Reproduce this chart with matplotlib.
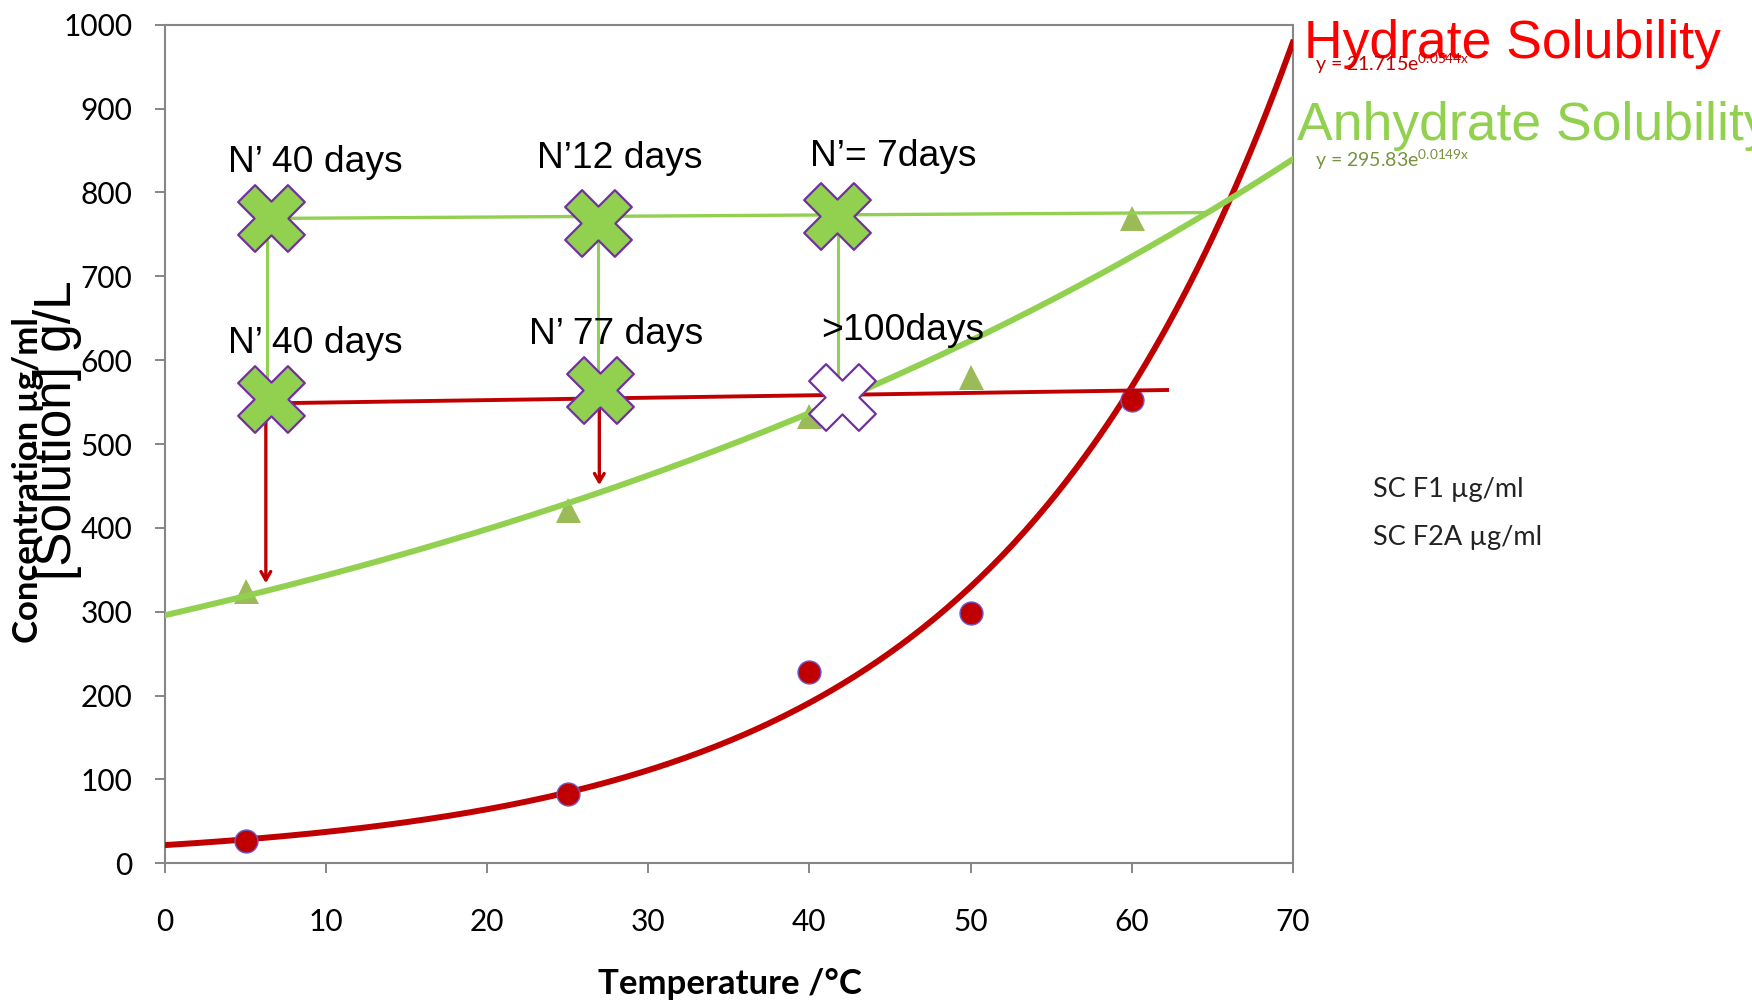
import numpy as np
import matplotlib
matplotlib.use("Agg")
import matplotlib.pyplot as plt
from matplotlib.path import Path

plt.rcParams['font.family'] = ['Lato', 'DejaVu Sans']
plt.rcParams['mathtext.fontset'] = 'custom'
plt.rcParams['mathtext.rm'] = 'Lato'

# Measured solubility points
temp_hydrate = [5, 25, 40, 50, 60]
conc_hydrate = [27, 83, 228, 299, 552]
temp_anhydrate = [5, 25, 40, 50, 60]
conc_anhydrate = [325, 421, 533, 580, 770]

# Exponential trendlines y = a * exp(b x)
hyd_a, hyd_b = 21.715, 0.0544
anh_a, anh_b = 295.83, 0.0149

# Slurry experiments: (temperature, concentration) and their labels
cross_top = [(6.6, 769), (26.9, 763), (41.7, 772)]
cross_top_labels = ["N\u2019 40 days", "N\u201912 days", "N\u2019= 7days"]
cross_top_label_pos = [(9.3, 836), (28.2, 840), (45.2, 843)]
cross_low = [(6.6, 554), (27.0, 564)]
cross_low_open = (42.0, 556)
cross_low_labels = ["N\u2019 40 days", "N\u2019 77 days", ">100days"]
cross_low_label_pos = [(9.3, 620), (28.0, 630), (45.8, 635)]

# Connector lines
green_h = ([6.6, 64.7], [769, 776])
green_v = [(6.35, 769, 554), (26.85, 763, 564), (41.75, 772, 573)]
red_h = ([6.6, 62.2], [548.5, 564.4])
red_arrows = [(6.26, 549, 334), (26.96, 553, 451)]

x_ticks = [0, 10, 20, 30, 40, 50, 60, 70]
y_ticks = [0, 100, 200, 300, 400, 500, 600, 700, 800, 900, 1000]

RED = '#C00000'
GREEN = '#92D050'
OLIVE = '#9BBB59'
PURPLE = '#7030A0'
GREY = '#868686'

# Bold diagonal cross marker
_w = 0.34
_plus = np.array([(-_w, 1), (_w, 1), (_w, _w), (1, _w), (1, -_w), (_w, -_w),
                  (_w, -1), (-_w, -1), (-_w, -_w), (-1, -_w), (-1, _w),
                  (-_w, _w), (-_w, 1)])
_c, _s = np.cos(np.pi / 4), np.sin(np.pi / 4)
_rot = _plus @ np.array([[_c, _s], [-_s, _c]])
CROSS = Path(_rot, closed=True)

W, H = 1752, 1001
fig = plt.figure(figsize=(W / 100, H / 100), dpi=100)
ax = fig.add_axes([165 / W, 1 - 863.3 / H, 1127.7 / W, 838.6 / H])

xs = np.linspace(0, 70, 300)
ax.plot(xs, hyd_a * np.exp(hyd_b * xs), color=RED, lw=4.3, zorder=3)
ax.plot(xs, anh_a * np.exp(anh_b * xs), color=GREEN, lw=4.3, zorder=3)

ax.plot(temp_hydrate, conc_hydrate, 'o', ms=16.5, color=RED,
        mec='#6A5ACD', mew=1.0, zorder=4)
ax.plot(temp_anhydrate, conc_anhydrate, '^', ms=18, color=OLIVE,
        mec=OLIVE, mew=0, zorder=2)

ax.plot(*green_h, color=GREEN, lw=2.4, zorder=5)
for x, y0, y1 in green_v:
    ax.plot([x, x], [y0, y1], color=GREEN, lw=2.2, zorder=5)
ax.plot(*red_h, color=RED, lw=2.8, zorder=5)
for x, y0, y1 in red_arrows:
    ax.annotate('', xy=(x, y1), xytext=(x, y0),
                arrowprops=dict(arrowstyle='->,head_length=0.6,head_width=0.35',
                                color=RED, lw=2.4, shrinkA=0, shrinkB=0),
                zorder=5)

for x, y in cross_top + cross_low:
    ax.plot(x, y, marker=CROSS, ms=48, color=GREEN, mec=PURPLE, mew=1.6,
            ls='none', zorder=6)
ax.plot(*cross_low_open, marker=CROSS, ms=48, color='white', mec=PURPLE,
        mew=1.6, ls='none', zorder=6)

arial = ['Liberation Sans', 'DejaVu Sans']
for (x, y), s in zip(cross_top_label_pos, cross_top_labels):
    ax.text(x, y, s, ha='center', va='center', fontsize=26.8, family=arial, zorder=7)
for (x, y), s in zip(cross_low_label_pos, cross_low_labels):
    ax.text(x, y, s, ha='center', va='center', fontsize=26.8, family=arial, zorder=7)

ax.set_xlim(0, 70)
ax.set_ylim(0, 1000)
ax.set_xticks(x_ticks)
ax.set_yticks(y_ticks)
ax.tick_params(axis='both', direction='out', length=7.5, width=1.4, color=GREY,
               labelsize=21.5, labelcolor='black')
ax.tick_params(axis='x', pad=25)
ax.tick_params(axis='y', pad=16)
for sp in ax.spines.values():
    sp.set_color(GREY)
    sp.set_linewidth(1.5)

fig.text(730 / W, 1 - 984 / H, 'Temperature /\u00b0C', ha='center', va='center',
         fontsize=25, fontweight='bold')
fig.text(28 / W, 1 - 480 / H, 'Concentration \u00b5g/ml', ha='center', va='center',
         rotation=90, fontsize=25, fontweight='bold')
fig.text(58 / W, 1 - 430 / H, '[Solution] g/L', ha='center', va='center',
         rotation=90, fontsize=37, family=arial)

fig.text(1304 / W, 1 - 44 / H, 'Hydrate Solubility', ha='left', va='center',
         fontsize=38.5, color='#FF0000', family=arial)
fig.text(1297 / W, 1 - 126 / H, 'Anhydrate Solubility', ha='left', va='center',
         fontsize=38.5, color=GREEN, family=arial)
fig.text(1315 / W, 1 - 64 / H, r'y = 21.715e$^{\mathrm{0.0544x}}$', ha='left',
         va='center', fontsize=14, color=RED)
fig.text(1315 / W, 1 - 160 / H, r'y = 295.83e$^{\mathrm{0.0149x}}$', ha='left',
         va='center', fontsize=14, color='#77933C')

fig.text(1373 / W, 1 - 489 / H, 'SC F1 \u00b5g/ml', ha='left', va='center',
         fontsize=19.5, color='#222222')
fig.text(1373 / W, 1 - 538 / H, 'SC F2A \u00b5g/ml', ha='left', va='center',
         fontsize=19.5, color='#222222')

fig.savefig('out.png', dpi=100, facecolor='white')
